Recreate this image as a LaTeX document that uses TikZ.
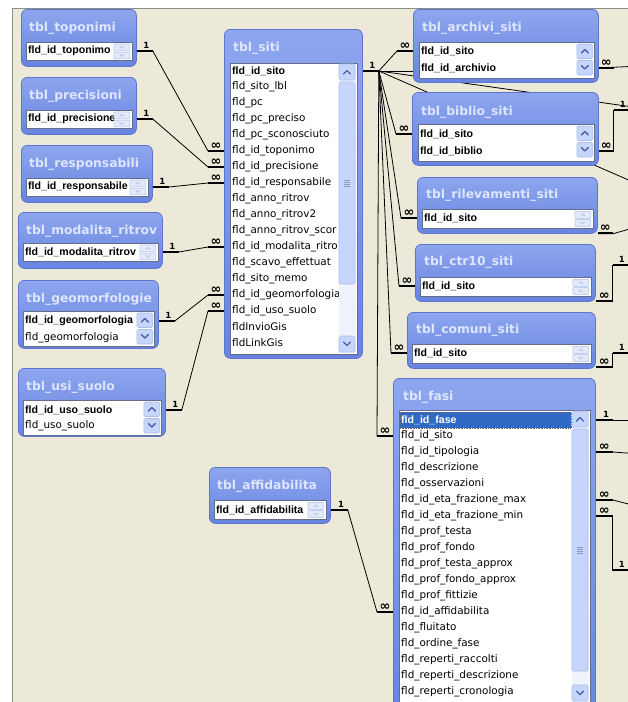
\documentclass[tikz,border=0pt]{standalone}
\usepackage{fontspec}
\setmainfont{DejaVu Sans}
\newfontfamily\keyfont{Liberation Sans}
\usepackage{tikz}
\usetikzlibrary{calc, positioning}
\definecolor{xpbeige}{RGB}{236,233,216}
\definecolor{xpframe}{RGB}{140,140,140}
\definecolor{tbltop}{RGB}{142,166,238}
\definecolor{tblbot}{RGB}{104,132,224}
\definecolor{tbledge}{RGB}{92,118,208}
\definecolor{ttltext}{RGB}{222,230,255}
\definecolor{listedge}{RGB}{100,110,140}
\definecolor{scrfill}{RGB}{198,213,250}
\definecolor{scredge}{RGB}{170,190,238}
\definecolor{scrtrack}{RGB}{240,243,252}
\definecolor{scrarrow}{RGB}{77,97,170}
\definecolor{scrfaint}{RGB}{226,233,249}
\definecolor{selblue}{RGB}{49,106,197}
\pgfdeclarelayer{bg}
\pgfdeclarelayer{links}
\pgfsetlayers{bg,links,main}
\tikzset{
  tbl/.style={rectangle, draw=tbledge, top color=tbltop, bottom color=tblbot,
    rounded corners=6pt, line width=0.8pt, anchor=north west, inner sep=0pt},
  ttl/.style={anchor=west, text=ttltext, inner sep=0pt,
    font=\bfseries\fontsize{12.3}{14}\selectfont},
  flist/.style={rectangle, draw=listedge, fill=white, line width=0.8pt,
    anchor=north west, inner sep=0pt},
  fld/.style={anchor=west, inner sep=0pt, font=\fontsize{10.4}{12}\selectfont},
  keyfld/.style={anchor=west, inner sep=0pt, font=\keyfont\bfseries\fontsize{10.6}{12}\selectfont},
  rel/.style={line width=0.8pt},
  stub/.style={line width=2.6pt},
  one/.style={above=1.5pt, pos=0.6, inner sep=0pt, font=\bfseries\fontsize{8.5}{9}\selectfont},
  many/.style={above=0.5pt, pos=0.5, inner sep=0pt, font=\bfseries\fontsize{13}{13}\selectfont},
  sbar/.style={draw=scredge, fill=scrfill, rounded corners=1.5pt, line width=0.6pt},
  chev/.style={draw=scrarrow, line width=1.4pt, line cap=round, line join=round},
  tinyscroll/.pic={
    \draw[draw=scredge, fill=scrfaint, rounded corners=1pt, line width=0.5pt] (-19,-7.5) rectangle (-3,-0.6);
    \draw[draw=scredge, fill=scrfaint, rounded corners=1pt, line width=0.5pt] (-19,0.6) rectangle (-3,7.5);
    \draw[scrarrow!45, line width=0.6pt] (-13,-3) -- (-11,-5) -- (-9,-3);
    \draw[scrarrow!45, line width=0.6pt] (-13,3) -- (-11,5) -- (-9,3);
  },
  twoscroll/.pic={
    \draw[sbar] (-18,2) rectangle (-2,16.5);
    \draw[sbar] (-18,18.5) rectangle (-2,33);
    \draw[chev] (-13.5,11) -- (-10,7.5) -- (-6.5,11);
    \draw[chev] (-13.5,23.5) -- (-10,27) -- (-6.5,23.5);
  }
}

\begin{document}
\begin{tikzpicture}[x=1pt, y=-1pt]
  \useasboundingbox (0,0) rectangle (627,702);
  \clip (0,0) rectangle (627,702);
  \begin{pgfonlayer}{bg}
    \fill[white] (0,0) rectangle (627,702);
    \fill[xpbeige] (12,8) rectangle (640,710);
    \draw[xpframe, line width=1pt] (12,710) -- (12,8) -- (640,8);
  \end{pgfonlayer}

  % left column
  \node[tbl, minimum width=115, minimum height=57] (toponimi) at (21,9) {};
  \node[ttl] (toponimi-t) at ($(toponimi.north west)+(8,19)$) {tbl\_toponimi};
  \node[flist, minimum width=106, minimum height=18] (toponimi-box) at (26,42) {};
  \node[keyfld] (toponimi-f1) at (28,51) {fld\_id\_toponimo};
  \pic at (toponimi-box.east) {tinyscroll};

  \node[tbl, minimum width=115, minimum height=57] (precisioni) at (21,77) {};
  \node[ttl] (precisioni-t) at ($(precisioni.north west)+(8,19)$) {tbl\_precisioni};
  \node[flist, minimum width=106, minimum height=18] (precisioni-box) at (26,110) {};
  \node[keyfld] (precisioni-f1) at (28,119) {fld\_id\_precisione};
  \pic at (precisioni-box.east) {tinyscroll};

  \node[tbl, minimum width=131, minimum height=57] (responsabili) at (21,145) {};
  \node[ttl] (responsabili-t) at ($(responsabili.north west)+(8,19)$) {tbl\_responsabili};
  \node[flist, minimum width=122, minimum height=18] (responsabili-box) at (26,178) {};
  \node[keyfld] (responsabili-f1) at (28,187) {fld\_id\_responsabile};
  \pic at (responsabili-box.east) {tinyscroll};

  \node[tbl, minimum width=144, minimum height=56] (modalita) at (18,212) {};
  \node[ttl] (modalita-t) at ($(modalita.north west)+(8,19)$) {tbl\_modalita\_ritrov};
  \node[flist, minimum width=135, minimum height=18] (modalita-box) at (23,243) {};
  \node[keyfld] (modalita-f1) at (25,252) {fld\_id\_modalita\_ritrov};
  \pic at (modalita-box.east) {tinyscroll};

  \node[tbl, minimum width=140, minimum height=68] (geomorfologie) at (18,280) {};
  \node[ttl] (geomorfologie-t) at ($(geomorfologie.north west)+(8,19)$) {tbl\_geomorfologie};
  \node[flist, minimum width=131, minimum height=35] (geomorfologie-box) at (23,311) {};
  \node[keyfld] (geomorfologie-f1) at (25,321) {fld\_id\_geomorfologia};
  \node[fld] (geomorfologie-f2) at (25,338) {fld\_geomorfologia};
  \pic at (geomorfologie-box.north east) {twoscroll};

  \node[tbl, minimum width=147, minimum height=68] (usisuolo) at (18,368) {};
  \node[ttl] (usisuolo-t) at ($(usisuolo.north west)+(8,19)$) {tbl\_usi\_suolo};
  \node[flist, minimum width=138, minimum height=35] (usisuolo-box) at (23,400) {};
  \node[keyfld] (usisuolo-f1) at (25,410) {fld\_id\_uso\_suolo};
  \node[fld] (usisuolo-f2) at (25,426) {fld\_uso\_suolo};
  \pic at (usisuolo-box.north east) {twoscroll};

  % tbl_siti
  \node[tbl, minimum width=138, minimum height=329] (siti) at (224,29) {};
  \node[ttl] (siti-t) at ($(siti.north west)+(9,19)$) {tbl\_siti};
  \node[flist, minimum width=127, minimum height=291] (siti-box) at (230,63) {};
  \node[keyfld] (siti-0) at (232,71) {fld\_id\_sito};
  \foreach \f [count=\k] in {fld\_sito\_lbl, fld\_pc, fld\_pc\_preciso, fld\_pc\_sconosciuto,
      fld\_id\_toponimo, fld\_id\_precisione, fld\_id\_responsabile, fld\_anno\_ritrov,
      fld\_anno\_ritrov2, fld\_anno\_ritrov\_scor, fld\_id\_modalita\_ritro,
      fld\_scavo\_effettuat, fld\_sito\_memo, fld\_id\_geomorfologia, fld\_id\_uso\_suolo,
      fldInvioGis, fldLinkGis}
    \node[fld] (siti-\k) at (232,71+16*\k) {\f};
  \fill[scrtrack] (339,64) rectangle (356,353);
  \draw[sbar] (339,64) rectangle (355,80);
  \draw[chev] (343.5,74) -- (347,70.5) -- (350.5,74);
  \draw[sbar] (339,82) rectangle (355,284);
  \foreach \g in {-3,-1,1,3}
    \draw[scredge!80!black, line width=0.5pt] (344,183+\g) -- (350,183+\g);
  \draw[sbar] (339,336) rectangle (355,352);
  \draw[chev] (343.5,342) -- (347,345.5) -- (350.5,342);

  % right column
  \node[tbl, minimum width=185, minimum height=73] (archivi) at (413,9) {};
  \node[ttl] (archivi-t) at ($(archivi.north west)+(9,19)$) {tbl\_archivi\_siti};
  \node[flist, minimum width=175, minimum height=36] (archivi-box) at (419,42) {};
  \node[keyfld] (archivi-f1) at (421,51) {fld\_id\_sito};
  \node[keyfld] (archivi-f2) at (421,68) {fld\_id\_archivio};
  \pic at (archivi-box.north east) {twoscroll};

  \node[tbl, minimum width=186, minimum height=73] (biblio) at (412,92) {};
  \node[ttl] (biblio-t) at ($(biblio.north west)+(9,20)$) {tbl\_biblio\_siti};
  \node[flist, minimum width=176, minimum height=37] (biblio-box) at (418,124) {};
  \node[keyfld] (biblio-f1) at (420,134) {fld\_id\_sito};
  \node[keyfld] (biblio-f2) at (420,151) {fld\_id\_biblio};
  \pic at (biblio-box.north east) {twoscroll};

  \node[tbl, minimum width=180, minimum height=56] (rilevamenti) at (417,177) {};
  \node[ttl] (rilevamenti-t) at ($(rilevamenti.north west)+(9,18)$) {tbl\_rilevamenti\_siti};
  \node[flist, minimum width=171, minimum height=19] (rilevamenti-box) at (422,209) {};
  \node[keyfld] (rilevamenti-f1) at (424,218) {fld\_id\_sito};
  \pic at (rilevamenti-box.east) {tinyscroll};

  \node[tbl, minimum width=180, minimum height=57] (ctr10) at (415,244) {};
  \node[ttl] (ctr10-t) at ($(ctr10.north west)+(9,18)$) {tbl\_ctr10\_siti};
  \node[flist, minimum width=171, minimum height=19] (ctr10-box) at (420,277) {};
  \node[keyfld] (ctr10-f1) at (422,286) {fld\_id\_sito};
  \pic at (ctr10-box.east) {tinyscroll};

  \node[tbl, minimum width=188, minimum height=56] (comuni) at (407,312) {};
  \node[ttl] (comuni-t) at ($(comuni.north west)+(9,18)$) {tbl\_comuni\_siti};
  \node[flist, minimum width=179, minimum height=19] (comuni-box) at (412,344) {};
  \node[keyfld] (comuni-f1) at (414,353) {fld\_id\_sito};
  \pic at (comuni-box.east) {tinyscroll};

  % tbl_fasi
  \node[tbl, minimum width=202, minimum height=340] (fasi) at (393,378) {};
  \node[ttl] (fasi-t) at ($(fasi.north west)+(10,19)$) {tbl\_fasi};
  \node[flist, minimum width=191, minimum height=300] (fasi-box) at (399,410) {};
  \fill[selblue] (400,412) rectangle (571,428);
  \draw[densely dotted, black!60, line width=0.6pt] (400,412) rectangle (571,428);
  \node[keyfld, text=white] (fasi-0) at (401,420) {fld\_id\_fase};
  \foreach \f [count=\k] in {fld\_id\_sito, fld\_id\_tipologia, fld\_descrizione,
      fld\_osservazioni, fld\_id\_eta\_frazione\_max, fld\_id\_eta\_frazione\_min,
      fld\_prof\_testa, fld\_prof\_fondo, fld\_prof\_testa\_approx, fld\_prof\_fondo\_approx,
      fld\_prof\_fittizie, fld\_id\_affidabilita, fld\_fluitato, fld\_ordine\_fase,
      fld\_reperti\_raccolti, fld\_reperti\_descrizione, fld\_reperti\_cronologia}
    \node[fld] (fasi-\k) at (401,420+16*\k) {\f};
  \fill[scrtrack] (572,411) rectangle (589,710);
  \draw[sbar] (572,411) rectangle (588,427);
  \draw[chev] (576.5,421) -- (580,417.5) -- (583.5,421);
  \draw[sbar] (572,429) rectangle (588,671);
  \foreach \g in {-3,-1,1,3}
    \draw[scredge!80!black, line width=0.5pt] (577,550+\g) -- (583,550+\g);
  \draw[sbar] (572,685) rectangle (588,701);
  \draw[chev] (576.5,691) -- (580,694.5) -- (583.5,691);

  % tbl_affidabilita
  \node[tbl, minimum width=121, minimum height=56] (affidabilita) at (209,467) {};
  \node[ttl] (affidabilita-t) at ($(affidabilita.north west)+(8,19)$) {tbl\_affidabilita};
  \node[flist, minimum width=112, minimum height=19] (affidabilita-box) at (214,500) {};
  \node[keyfld] (affidabilita-f1) at (216,510) {fld\_id\_affidabilita};
  \pic at (affidabilita-box.east) {tinyscroll};

  % free ends beyond the right edge
  \coordinate (out-archivio) at (640,66);
  \coordinate (out-biblio) at (640,110);
  \coordinate (out-ril) at (640,226);
  \coordinate (out-ctr) at (640,265);
  \coordinate (out-comuni) at (640,353);
  \coordinate (out-fase) at (640,420);
  \coordinate (out-tipo) at (640,454);
  \coordinate (out-max) at (640,507);
  \coordinate (out-min) at (640,570);
  \coordinate (out-a) at (640,108);
  \coordinate (out-b) at (640,185);

  \begin{pgfonlayer}{links}
    % lookups into tbl_siti
    \foreach \tb/\k in {toponimi/5, precisioni/6, responsabili/7, modalita/11,
        geomorfologie/14, usisuolo/15} {
      \draw[rel] (\tb.east |- \tb-f1) -- ++(16,0)
        -- ($(siti.west |- siti-\k)+(-16,0)$) -- (siti.west |- siti-\k);
      \draw[stub] (\tb.east |- \tb-f1) -- node[one]{1} ++(16,0);
      \draw[stub] (siti.west |- siti-\k) -- node[many]{∞} ++(-16,0);
    }
    % fld_id_sito fan
    \draw[stub] (siti.east |- siti-0) -- node[one]{1} ++(16,0) coordinate (hub);
    \foreach \tb/\r in {archivi/f1, biblio/f1, rilevamenti/f1, ctr10/f1, comuni/f1, fasi/1} {
      \draw[rel] (hub) -- ($(\tb.west |- \tb-\r)+(-16,0)$) -- (\tb.west |- \tb-\r);
      \draw[stub] (\tb.west |- \tb-\r) -- node[many]{∞} ++(-16,0);
    }
    \draw[rel] (hub) -- (archivi.center |- hub);
    \draw[rel] (hub) -- (out-a);
    \draw[rel] (hub) -- (out-b);
    % right side
    \draw[rel] (archivi.east |- archivi-f2) -- (out-archivio);
    \draw[stub] (archivi.east |- archivi-f2) -- node[many]{∞} ++(15,0);
    \draw[rel] (biblio.east |- biblio-f2) -- ++(15,0) coordinate (bib-k) |- (out-biblio);
    \draw[stub] (biblio.east |- biblio-f2) -- node[many]{∞} ++(15,0);
    \draw[stub] (bib-k |- out-biblio) -- node[one]{1} ++(15,0);
    \draw[rel] (rilevamenti.south east) -- ++(15,0) -- (out-ril);
    \draw[stub] ($(rilevamenti.south east)+(0,-1)$) -- node[many]{∞} ++(15,0);
    \draw[rel] ($(ctr10.south east)+(0,-1)$) -- ++(17,0) coordinate (ctr-k) |- (out-ctr);
    \draw[stub] ($(ctr10.south east)+(0,-1)$) -- node[many]{∞} ++(17,0);
    \draw[stub] (ctr-k |- out-ctr) -- node[one]{1} ++(15,0);
    \draw[rel] ($(comuni.south east)+(0,-2)$) -- ++(17,0) coordinate (com-k) |- (out-comuni);
    \draw[stub] ($(comuni.south east)+(0,-2)$) -- node[many]{∞} ++(17,0);
    \draw[stub] (com-k |- out-comuni) -- node[one]{1} ++(15,0);
    \draw[rel] (fasi.east |- fasi-0) -- (out-fase);
    \draw[stub] (fasi.east |- fasi-0) -- node[one]{1} ++(17,0);
    \draw[rel] (fasi.east |- fasi-2) -- ++(17,0) -- (out-tipo);
    \draw[stub] (fasi.east |- fasi-2) -- node[many]{∞} ++(17,0);
    \draw[rel] (fasi.east |- fasi-5) -- ++(17,0) -- (out-max);
    \draw[stub] (fasi.east |- fasi-5) -- node[many]{∞} ++(17,0);
    \draw[rel] (fasi.east |- fasi-6) -- ++(17,0) coordinate (min-k) |- (out-min);
    \draw[stub] (fasi.east |- fasi-6) -- node[many]{∞} ++(17,0);
    \draw[stub] (min-k |- out-min) -- node[one]{1} ++(15,0);
    % tbl_affidabilita into tbl_fasi
    \draw[rel] (affidabilita.east |- affidabilita-f1) -- ++(17,0)
      -- ($(fasi.west |- fasi-12)+(-16,0)$) -- (fasi.west |- fasi-12);
    \draw[stub] (affidabilita.east |- affidabilita-f1) -- node[one]{1} ++(17,0);
    \draw[stub] (fasi.west |- fasi-12) -- node[many]{∞} ++(-16,0);
  \end{pgfonlayer}
\end{tikzpicture}
\end{document}
